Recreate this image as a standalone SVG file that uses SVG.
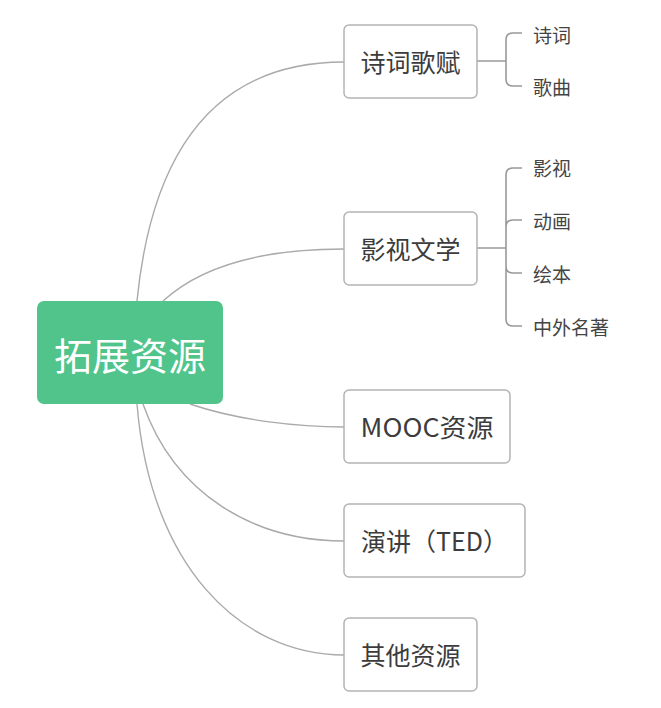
<svg xmlns="http://www.w3.org/2000/svg" width="661" height="708" viewBox="0 0 661 708">
<style>
.box{fill:#fff;stroke:#b4b4b4;stroke-width:1.5}
.t{font-family:"Noto Sans CJK SC","Noto Sans",sans-serif;fill:#3c3c3c;text-anchor:middle;font-size:25px}
.s{font-family:"Noto Sans CJK SC","Noto Sans",sans-serif;fill:#444;font-size:19px}
.c{fill:none;stroke:#aaa;stroke-width:1.4}
.b{fill:none;stroke:#999;stroke-width:1.6}
</style>
<rect width="661" height="708" fill="#fff"/>
<g id="connectors">
<path class="c" d="M137,301 C155,120 240,62 344,62"/>
<path class="c" d="M163,301 C200,267 260,249 344,249"/>
<path class="c" d="M190,404 C240,421 300,427 344,427"/>
<path class="c" d="M143,404 C175,495 255,541 344,541"/>
<path class="c" d="M137,404 C150,565 240,655 344,655"/>
<path class="b" d="M477,61 H506 M506,61 V40 Q506,33 513,33 H522 M506,61 V79 Q506,86 513,86 H522"/>
<path class="b" d="M477,248 H506 M506,248 V175 Q506,168 513,168 H522 M506,248 V227 Q506,220 513,220 H522 M506,248 V266 Q506,273 513,273 H522 M506,248 V319 Q506,326 513,326 H522"/>
</g>
<g id="root">
<rect x="37" y="301" width="186" height="103" rx="7" fill="#50c48b"/>
<text x="130" y="370" font-family="'Noto Sans CJK SC','Noto Sans',sans-serif" font-size="38" fill="#fff" text-anchor="middle">拓展资源</text>
</g>
<g id="n1">
<rect class="box" x="344" y="25" width="133" height="73" rx="5"/>
<text class="t" x="410.5" y="72">诗词歌赋</text>
</g>
<g id="n1a"><text class="s" x="533" y="42.5">诗词</text></g>
<g id="n1b"><text class="s" x="533" y="95">歌曲</text></g>
<g id="n2">
<rect class="box" x="344" y="212" width="133" height="73" rx="5"/>
<text class="t" x="410.5" y="259">影视文学</text>
</g>
<g id="n2a"><text class="s" x="533" y="175.5">影视</text></g>
<g id="n2b"><text class="s" x="533" y="229">动画</text></g>
<g id="n2c"><text class="s" x="533" y="282">绘本</text></g>
<g id="n2d"><text class="s" x="533" y="335">中外名著</text></g>
<g id="n3">
<rect class="box" x="344" y="390" width="166" height="73" rx="5"/>
<text class="t" x="427" y="437" textLength="133" lengthAdjust="spacingAndGlyphs">MOOC资源</text>
</g>
<g id="n4">
<rect class="box" x="344" y="504" width="181" height="73" rx="5"/>
<text class="t" x="434.5" y="551">演讲（TED）</text>
</g>
<g id="n5">
<rect class="box" x="344" y="618" width="133" height="73" rx="5"/>
<text class="t" x="410.5" y="665">其他资源</text>
</g>
</svg>
